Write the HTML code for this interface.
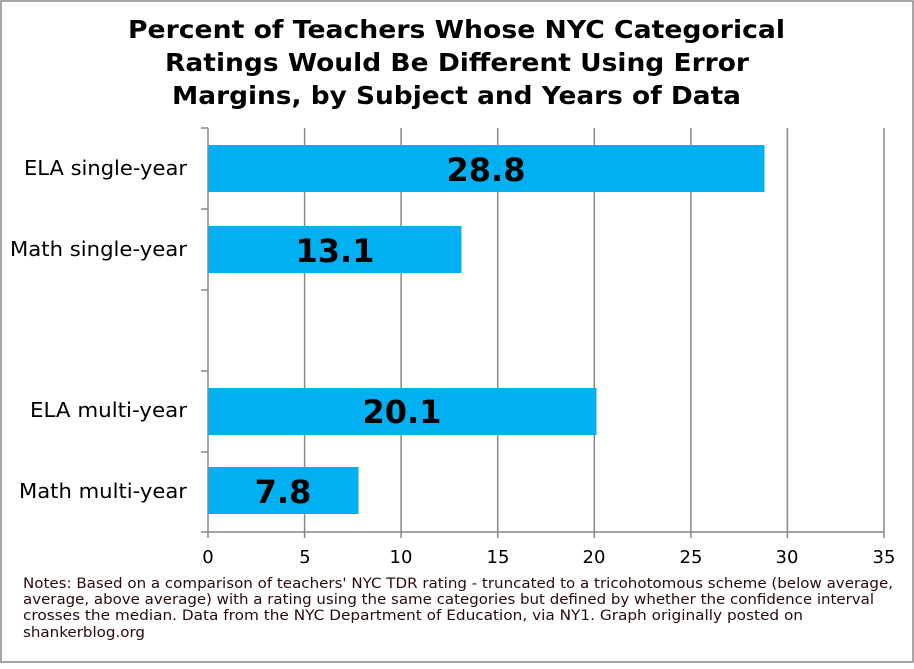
<!DOCTYPE html><html><head><style>body{margin:0;background:#fff}</style></head><body>
<svg width="914" height="664" xmlns="http://www.w3.org/2000/svg" font-family="DejaVu Sans, Liberation Sans, sans-serif">
<rect x="1" y="1" width="912" height="661" fill="#fff" stroke="#888" stroke-width="1.5"/>
<g font-weight="bold" font-size="25" fill="#000" lengthAdjust="spacingAndGlyphs">
<text x="128" y="38" textLength="657" lengthAdjust="spacingAndGlyphs">Percent of Teachers Whose NYC Categorical</text>
<text x="165" y="71" textLength="584" lengthAdjust="spacingAndGlyphs">Ratings Would Be Different Using Error</text>
<text x="172" y="104" textLength="569" lengthAdjust="spacingAndGlyphs">Margins, by Subject and Years of Data</text>
</g>
<g stroke="#888" stroke-width="1.5">
<line x1="304.6" y1="128" x2="304.6" y2="538"/>
<line x1="401.1" y1="128" x2="401.1" y2="538"/>
<line x1="497.7" y1="128" x2="497.7" y2="538"/>
<line x1="594.3" y1="128" x2="594.3" y2="538"/>
<line x1="690.9" y1="128" x2="690.9" y2="538"/>
<line x1="787.4" y1="128" x2="787.4" y2="538"/>
<line x1="884" y1="128" x2="884" y2="538"/>
<line x1="208" y1="128" x2="208" y2="538"/>
<line x1="201" y1="532" x2="884" y2="532"/>
<line x1="201" y1="128" x2="208" y2="128"/>
<line x1="201" y1="209" x2="208" y2="209"/>
<line x1="201" y1="290" x2="208" y2="290"/>
<line x1="201" y1="371" x2="208" y2="371"/>
<line x1="201" y1="452" x2="208" y2="452"/>
</g>
<g fill="#00b0f0">
<rect x="208.5" y="145" width="556" height="47"/>
<rect x="208.5" y="226" width="253" height="47"/>
<rect x="208.5" y="388" width="388" height="47"/>
<rect x="208.5" y="467" width="150" height="47"/>
</g>
<g font-weight="bold" font-size="32" text-anchor="middle" fill="#000">
<text x="486" y="181">28.8</text>
<text x="335" y="262">13.1</text>
<text x="402" y="423">20.1</text>
<text x="283" y="503">7.8</text>
</g>
<g font-size="20" fill="#000">
<text x="24" y="175" textLength="163" lengthAdjust="spacingAndGlyphs">ELA single-year</text>
<text x="10" y="256" textLength="177" lengthAdjust="spacingAndGlyphs">Math single-year</text>
<text x="30" y="417" textLength="157" lengthAdjust="spacingAndGlyphs">ELA multi-year</text>
<text x="19" y="498" textLength="168" lengthAdjust="spacingAndGlyphs">Math multi-year</text>
</g>
<g font-size="18" text-anchor="middle" fill="#000">
<text x="208" y="563">0</text><text x="305" y="563">5</text><text x="401" y="563">10</text>
<text x="498" y="563">15</text><text x="594" y="563">20</text><text x="691" y="563">25</text>
<text x="787" y="563">30</text><text x="884" y="563">35</text>
</g>
<g font-size="14.5" fill="#2a0a0a">
<text x="23" y="588" textLength="870" lengthAdjust="spacingAndGlyphs">Notes: Based on a comparison of teachers' NYC TDR rating - truncated to  a tricohotomous scheme (below average,</text>
<text x="23" y="604" textLength="851" lengthAdjust="spacingAndGlyphs">average, above average) with a rating using the same categories but defined by whether the confidence interval</text>
<text x="23" y="620" textLength="780" lengthAdjust="spacingAndGlyphs">crosses the median. Data from the NYC Department of Education, via NY1. Graph originally posted on</text>
<text x="23" y="637" textLength="122" lengthAdjust="spacingAndGlyphs">shankerblog.org</text>
</g>
</svg>
</body></html>
